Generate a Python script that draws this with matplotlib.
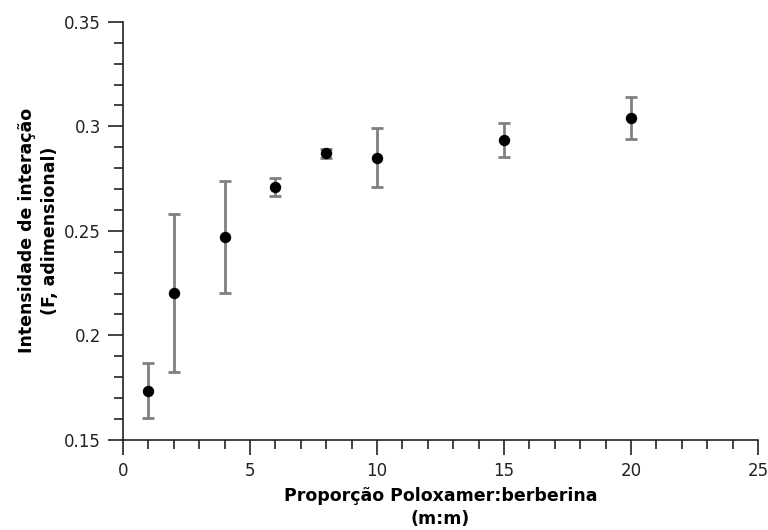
import matplotlib
matplotlib.use("Agg")
import matplotlib.pyplot as plt
from matplotlib.ticker import MultipleLocator, FuncFormatter

# dados
proporcao = [1, 2, 4, 6, 8, 10, 15, 20]
intensidade = [0.1735, 0.2204, 0.2471, 0.2711, 0.2871, 0.2850, 0.2935, 0.3041]
erro = [0.0131, 0.0379, 0.0269, 0.0043, 0.0022, 0.0140, 0.0081, 0.0100]

fig = plt.figure(figsize=(7.68, 5.30), dpi=100)
ax = fig.add_axes([0.160, 0.170, 0.827, 0.7887])

ax.errorbar(proporcao, intensidade, yerr=erro, fmt='o', color='black',
            markersize=7.2, ecolor='#808080', elinewidth=2.0,
            capsize=4.4, capthick=2.0, zorder=3)

ax.set_xlim(0, 25)
ax.set_ylim(0.15, 0.35)
ax.xaxis.set_major_locator(MultipleLocator(5))
ax.xaxis.set_minor_locator(MultipleLocator(1))
ax.yaxis.set_major_locator(MultipleLocator(0.05))
ax.yaxis.set_minor_locator(MultipleLocator(0.01))
ax.yaxis.set_major_formatter(FuncFormatter(lambda v, p: '%g' % round(v, 2)))

for s in ['top', 'right']:
    ax.spines[s].set_visible(False)
for s in ['left', 'bottom']:
    ax.spines[s].set_linewidth(1.2)
    ax.spines[s].set_color('#222222')

ax.tick_params(which='major', direction='out', length=10.8, width=1.2,
               color='#222222', labelsize=12, labelcolor='#222222', pad=5)
ax.tick_params(which='minor', direction='out', length=6.5, width=1.2,
               color='#222222')

ax.set_xlabel("Proporção Poloxamer:berberina\n(m:m)", fontsize=12.5,
              fontweight='bold', linespacing=1.35)
ax.xaxis.set_label_coords(0.5, -0.112)
ax.set_ylabel("Intensidade de interação\n(F, adimensional)", fontsize=12.5,
              fontweight='bold', linespacing=1.35)
ax.yaxis.set_label_coords(-0.100, 0.5)

fig.savefig("out.png", dpi=100)
